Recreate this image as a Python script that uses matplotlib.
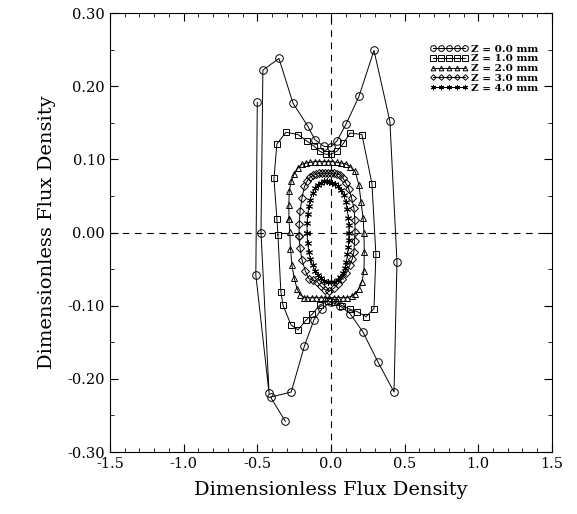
import matplotlib
matplotlib.use("Agg")
import matplotlib.pyplot as plt
from matplotlib.ticker import MultipleLocator, FormatStrFormatter

# flux density loci (Bx, By) for each axial position
bx_z0 = [-0.31, -0.41, -0.27, -0.18, -0.115, -0.06, 0.0, 0.06, 0.13, 0.217, 0.319,
         0.428, 0.448, 0.40, 0.292, 0.19, 0.102, 0.04, 0.0, -0.05, -0.109, -0.156,
         -0.258, -0.353, -0.462, -0.475, -0.42, -0.51, -0.50]
by_z0 = [-0.258, -0.225, -0.218, -0.155, -0.119, -0.104, -0.095, -0.10, -0.111, -0.136,
         -0.177, -0.218, -0.040, 0.152, 0.249, 0.186, 0.148, 0.125, 0.117, 0.118, 0.127,
         0.145, 0.177, 0.238, 0.222, 0.0, -0.22, -0.058, 0.178]

bx_z1 = [-0.36, -0.367, -0.387, -0.367, -0.306, -0.224, -0.163, -0.115, -0.075, -0.035,
         0.0, 0.04, 0.085, 0.129, 0.21, 0.278, 0.305, 0.292, 0.238, 0.177, 0.129, 0.075,
         0.03, -0.02, -0.075, -0.129, -0.17, -0.224, -0.272, -0.326, -0.34, -0.36]
by_z1 = [-0.003, 0.019, 0.074, 0.121, 0.137, 0.134, 0.125, 0.118, 0.111, 0.107,
         0.107, 0.111, 0.122, 0.136, 0.134, 0.067, -0.030, -0.104, -0.115, -0.108, -0.105,
         -0.100, -0.095, -0.094, -0.099, -0.112, -0.120, -0.133, -0.126, -0.099, -0.081, -0.003]

bx_z2 = [-0.285, -0.286, -0.283, -0.27, -0.25, -0.225, -0.2, -0.17, -0.14, -0.11, -0.08,
         -0.05, -0.02, 0.01, 0.04, 0.07, 0.1, 0.13, 0.163, 0.19, 0.204, 0.218, 0.224, 0.226,
         0.224, 0.21, 0.19, 0.165, 0.14, 0.11, 0.08, 0.05, 0.02, -0.01, -0.04, -0.07, -0.1,
         -0.13, -0.16, -0.183, -0.21, -0.23, -0.25, -0.265, -0.275, -0.28, -0.285]
by_z2 = [0.019, 0.038, 0.057, 0.07, 0.08, 0.088, 0.093, 0.095, 0.096, 0.097, 0.097,
         0.097, 0.097, 0.097, 0.096, 0.095, 0.094, 0.09, 0.084, 0.065, 0.042, 0.02, -0.001,
         -0.027, -0.053, -0.067, -0.077, -0.084, -0.087, -0.089, -0.089, -0.089, -0.089,
         -0.089, -0.089, -0.089, -0.089, -0.089, -0.089, -0.089, -0.085, -0.077, -0.062,
         -0.044, -0.022, 0.001, 0.019]

bx_z3 = [-0.217, -0.215, -0.21, -0.197, -0.18, -0.16, -0.14, -0.12, -0.1, -0.08, -0.06,
         -0.04, -0.02, 0.0, 0.02, 0.04, 0.06, 0.08, 0.1, 0.12, 0.14, 0.156, 0.162, 0.163,
         0.16, 0.156, 0.145, 0.129, 0.105, 0.075, 0.05, 0.02, -0.01, -0.04, -0.07, -0.095,
         -0.125, -0.15, -0.175, -0.197, -0.21, -0.217]
by_z3 = [-0.005, 0.012, 0.029, 0.047, 0.063, 0.071, 0.076, 0.078, 0.08, 0.081, 0.081,
         0.081, 0.081, 0.081, 0.081, 0.08, 0.079, 0.075, 0.068, 0.06, 0.047, 0.033, 0.017,
         0.001, -0.012, -0.026, -0.036, -0.044, -0.055, -0.063, -0.07, -0.076, -0.08,
         -0.078, -0.073, -0.067, -0.065, -0.063, -0.052, -0.037, -0.021, -0.005]

bx_z4 = [-0.163, -0.162, -0.158, -0.15, -0.14, -0.125, -0.108, -0.09, -0.07, -0.05, -0.03,
         -0.01, 0.01, 0.03, 0.05, 0.07, 0.087, 0.1, 0.11, 0.118, 0.121, 0.122, 0.12, 0.118,
         0.112, 0.105, 0.094, 0.08, 0.063, 0.045, 0.022, 0.0, -0.022, -0.045, -0.068, -0.09,
         -0.108, -0.125, -0.14, -0.15, -0.158, -0.163]
by_z4 = [0.0, 0.013, 0.025, 0.036, 0.045, 0.054, 0.061, 0.065, 0.068, 0.07, 0.07, 0.069,
         0.068, 0.066, 0.063, 0.058, 0.051, 0.042, 0.032, 0.02, 0.01, 0.0, -0.01, -0.02,
         -0.03, -0.04, -0.048, -0.055, -0.061, -0.065, -0.067, -0.068, -0.068, -0.066,
         -0.062, -0.058, -0.052, -0.045, -0.036, -0.027, -0.014, 0.0]

labels = ["Z = 0.0 mm", "Z = 1.0 mm", "Z = 2.0 mm", "Z = 3.0 mm", "Z = 4.0 mm"]

plt.rcParams["font.family"] = ["DejaVu Serif"]

fig = plt.figure(figsize=(5.77, 5.14), dpi=100)
ax = fig.add_axes([0.1906, 0.1206, 0.766, 0.854])

series = [
    (bx_z0, by_z0, "o", 5.5),
    (bx_z1, by_z1, "s", 5.0),
    (bx_z2, by_z2, "^", 4.5),
    (bx_z3, by_z3, "D", 3.8),
    (bx_z4, by_z4, (6, 2, 0), 5.0),
]
for (xs, ys, mk, ms), lab in zip(series, labels):
    ax.plot(xs, ys, color="black", linewidth=0.7, marker=mk, markersize=ms,
            markerfacecolor="none", markeredgecolor="black", markeredgewidth=0.7,
            label=lab)

ax.axhline(0, color="black", linestyle=(0, (6, 5)), linewidth=0.8)
ax.axvline(0, color="black", linestyle=(0, (6, 5)), linewidth=0.8)

ax.set_xlim(-1.5, 1.5)
ax.set_ylim(-0.30, 0.30)
ax.xaxis.set_major_locator(MultipleLocator(0.5))
ax.xaxis.set_minor_locator(MultipleLocator(0.1))
ax.yaxis.set_major_locator(MultipleLocator(0.1))
ax.yaxis.set_minor_locator(MultipleLocator(0.05))
ax.xaxis.set_major_formatter(FormatStrFormatter("%.1f"))
ax.yaxis.set_major_formatter(FormatStrFormatter("%.2f"))
ax.tick_params(which="both", direction="in", top=True, right=True, labelsize=10.5)
ax.tick_params(which="major", length=6)
ax.tick_params(which="minor", length=3)
for s in ax.spines.values():
    s.set_linewidth(0.8)

ax.set_xlabel("Dimensionless Flux Density", fontsize=14, labelpad=7)
ax.set_ylabel("Dimensionless Flux Density", fontsize=14, labelpad=8)

ax.legend(loc="upper right", bbox_to_anchor=(0.99, 0.95), frameon=False, numpoints=5,
          handlelength=3.6, handletextpad=0.3, labelspacing=0.05, markerscale=0.75,
          prop={"size": 7.5, "weight": "bold"})

fig.savefig("out.png", dpi=100)
